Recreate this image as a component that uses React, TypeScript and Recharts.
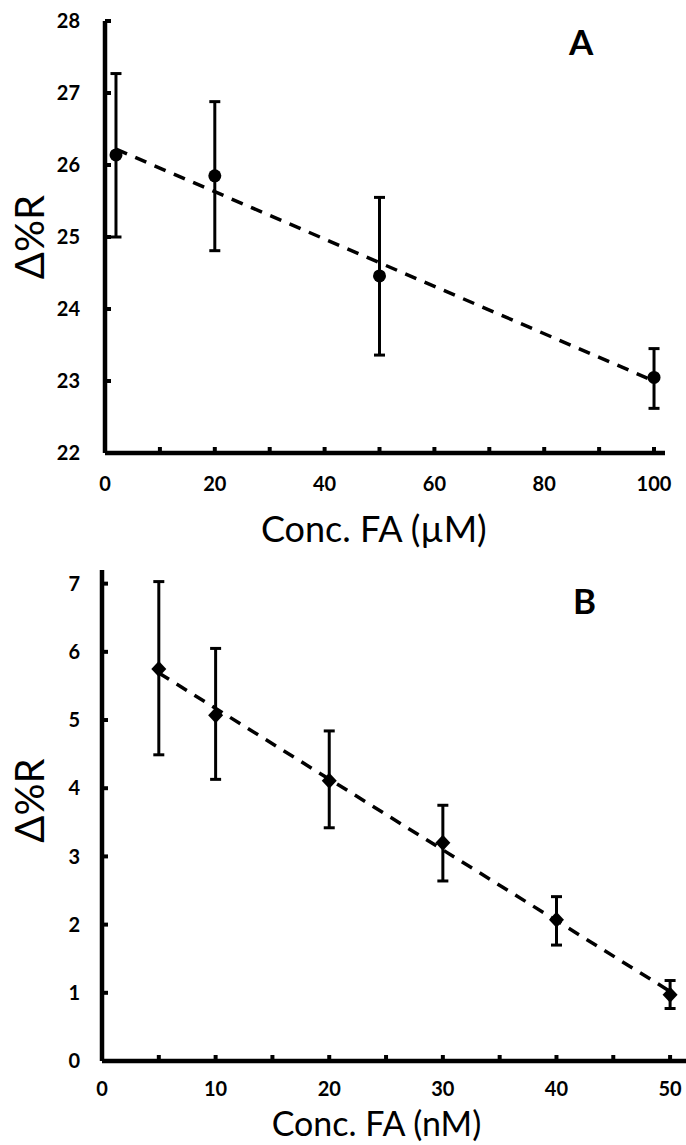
import { ErrorBar, Scatter, ScatterChart, XAxis, YAxis } from "recharts"

// Panel A: FA in µM
const concA = [2, 20, 50, 100]
const deltaA = [26.14, 25.85, 24.46, 23.05]
const errLowA = [1.14, 1.04, 1.1, 0.43]
const errHighA = [1.13, 1.03, 1.09, 0.4]
const trendConcA = [2, 100]
const trendDeltaA = [26.22, 23.0]
const xTicksA = [0, 10, 20, 30, 40, 50, 60, 70, 80, 90, 100]
const yTicksA = [22, 23, 24, 25, 26, 27, 28]

// Panel B: FA in nM
const concB = [5, 10, 20, 30, 40, 50]
const deltaB = [5.75, 5.07, 4.11, 3.2, 2.07, 0.97]
const errLowB = [1.26, 0.94, 0.69, 0.56, 0.37, 0.2]
const errHighB = [1.28, 0.98, 0.73, 0.55, 0.34, 0.21]
const trendConcB = [5, 50]
const trendDeltaB = [5.69, 1.02]
const xTicksB = [0, 5, 10, 15, 20, 25, 30, 35, 40, 45, 50]
const yTicksB = [0, 1, 2, 3, 4, 5, 6, 7]

const FONT = "Lato"
const tickStyle = { fill: "#000", fontSize: 20, fontWeight: 700, fontFamily: FONT }

const Dot = (p: any) => <circle cx={p.cx} cy={p.cy} r={6.5} fill="#000" />
const Diamond = (p: any) => (
  <polygon
    points={`${p.cx},${p.cy - 8} ${p.cx + 7.5},${p.cy} ${p.cx},${p.cy + 8} ${p.cx - 7.5},${p.cy}`}
    fill="#000"
  />
)
const NoShape = () => <g />

type PanelProps = {
  width: number
  height: number
  margin: { top: number; right: number; bottom: number; left: number }
  yAxisWidth: number
  xAxisHeight: number
  xDomain: [number, number]
  yDomain: [number, number]
  xTicks: number[]
  yTicks: number[]
  labelEvery: number
  xTickMargin: number
  yTickMargin: number
  conc: number[]
  delta: number[]
  errLow: number[]
  errHigh: number[]
  trendConc: number[]
  trendDelta: number[]
  marker: (p: any) => any
  xTitle: string
  xTitleSize: number
  xTitleFrac: number
  xTitleOffset: number
  yTitleShift: number
  letter: string
  letterX: number
  letterY: number
}

function Panel(props: PanelProps) {
  const points = props.conc.map((c, i) => ({
    x: c,
    y: props.delta[i],
    err: [props.errLow[i], props.errHigh[i]],
  }))
  const trend = props.trendConc.map((c, i) => ({ x: c, y: props.trendDelta[i] }))

  const yTitle = (lp: any) => {
    const vb = lp.viewBox
    const cx = 29
    const cy = vb.y + vb.height / 2 + props.yTitleShift
    return (
      <text
        x={cx}
        y={cy}
        transform={`rotate(-90, ${cx}, ${cy})`}
        textAnchor="middle"
        dominantBaseline="central"
        fontFamily={FONT}
        fontSize={40}
        fill="#000"
      >
        Δ%R
      </text>
    )
  }

  const xTitle = (lp: any) => {
    const vb = lp.viewBox
    return (
      <text
        x={vb.x + vb.width * props.xTitleFrac}
        y={vb.y + props.xTitleOffset}
        textAnchor="middle"
        dominantBaseline="central"
        fontFamily={FONT}
        fontSize={props.xTitleSize}
        fill="#000"
      >
        {props.xTitle}
      </text>
    )
  }

  return (
    <div style={{ position: "relative", width: props.width, height: props.height }}>
      <ScatterChart width={props.width} height={props.height} margin={props.margin}>
        <XAxis
          type="number"
          dataKey="x"
          domain={props.xDomain}
          ticks={props.xTicks}
          interval={0}
          tickFormatter={(v: number) => (v % props.labelEvery === 0 ? String(v) : "")}
          height={props.xAxisHeight}
          tickSize={-6}
          tickMargin={props.xTickMargin}
          tick={tickStyle}
          axisLine={{ stroke: "#000", strokeWidth: 4.5 }}
          tickLine={{ stroke: "#000", strokeWidth: 4 }}
          allowDataOverflow
          label={{ content: xTitle }}
        />
        <YAxis
          type="number"
          dataKey="y"
          domain={props.yDomain}
          ticks={props.yTicks}
          interval={0}
          width={props.yAxisWidth}
          tickSize={-6}
          tickMargin={props.yTickMargin}
          tick={tickStyle}
          axisLine={{ stroke: "#000", strokeWidth: 4.5 }}
          tickLine={{ stroke: "#000", strokeWidth: 4 }}
          allowDataOverflow
          label={{ content: yTitle }}
        />
        <Scatter
          data={trend}
          shape={NoShape}
          line={{ stroke: "#000", strokeWidth: 3.5, strokeDasharray: "12 9" }}
          isAnimationActive={false}
        />
        <Scatter data={points} shape={props.marker} isAnimationActive={false}>
          <ErrorBar dataKey="err" direction="y" width={5.5} stroke="#000" strokeWidth={3} />
        </Scatter>
      </ScatterChart>
      <div
        style={{
          position: "absolute",
          left: props.letterX,
          top: props.letterY,
          fontFamily: FONT,
          fontWeight: 700,
          fontSize: 35,
          lineHeight: "35px",
          color: "#000",
        }}
      >
        {props.letter}
      </div>
    </div>
  )
}

export default function App() {
  return (
    <div style={{ position: "absolute", left: 0, top: 0, width: 686, height: 1145, background: "#fff" }}>
      <Panel
        width={686}
        height={560}
        margin={{ top: 21, right: 21, bottom: 7, left: 0 }}
        yAxisWidth={105}
        xAxisHeight={100}
        xDomain={[0, 102]}
        yDomain={[22, 28]}
        xTicks={xTicksA}
        yTicks={yTicksA}
        labelEvery={20}
        xTickMargin={30}
        yTickMargin={31}
        conc={concA}
        delta={deltaA}
        errLow={errLowA}
        errHigh={errHighA}
        trendConc={trendConcA}
        trendDelta={trendDeltaA}
        marker={Dot}
        xTitle="Conc. FA (µM)"
        xTitleSize={36}
        xTitleFrac={0.48}
        xTitleOffset={75}
        yTitleShift={0}
        letter="A"
        letterX={569}
        letterY={24}
      />
      <Panel
        width={686}
        height={585}
        margin={{ top: 10, right: 0, bottom: 0, left: 0 }}
        yAxisWidth={102}
        xAxisHeight={84}
        xDomain={[0, 51.4]}
        yDomain={[0, 7.2]}
        xTicks={xTicksB}
        yTicks={yTicksB}
        labelEvery={10}
        xTickMargin={27}
        yTickMargin={28}
        conc={concB}
        delta={deltaB}
        errLow={errLowB}
        errHigh={errHighB}
        trendConc={trendConcB}
        trendDelta={trendDeltaB}
        marker={Diamond}
        xTitle="Conc. FA (nM)"
        xTitleSize={34}
        xTitleFrac={0.47}
        xTitleOffset={61}
        yTitleShift={-15}
        letter="B"
        letterX={573}
        letterY={23}
      />
    </div>
  )
}
